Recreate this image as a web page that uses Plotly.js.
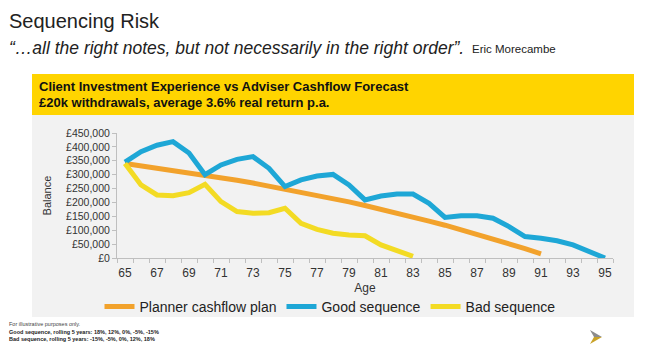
<!DOCTYPE html>
<html>
<head>
<meta charset="utf-8">
<script src="https://cdn.plot.ly/plotly-3.0.1.min.js"></script>
<style>html,body{margin:0;padding:0;background:#fff;}#chart{width:650px;height:351px;}</style>
</head>
<body>
<div id="chart"></div>
<script>
// ---- data ----
const plannerAges = [65,66,67,68,69,70,71,72,73,74,75,76,77,78,79,80,81,82,83,84,85,86,87,88,89,90,91];
const plannerValues = [340000,332000,324000,316000,307000,298000,289000,280000,270000,259000,249000,238000,226000,214000,202000,189000,176000,162000,148000,133000,118000,102000,86000,69000,52000,34000,15000];
const goodAges = [65,66,67,68,69,70,71,72,73,74,75,76,77,78,79,80,81,82,83,84,85,86,87,88,89,90,91,92,93,94,95];
const goodValues = [345000,383000,406000,419000,378000,300000,335000,355000,365000,323000,257000,281000,295000,301000,263000,209000,223000,230000,230000,197000,146000,152000,152000,143000,113000,77000,71000,62000,47000,23000,0];
const badAges = [65,66,67,68,69,70,71,72,73,74,75,76,77,78,79,80,81,82,83];
const badValues = [340000,263000,227000,224000,235000,265000,203000,167000,161000,163000,179000,125000,103000,89000,83000,80000,47000,25000,6000];
const xTickVals = [65,67,69,71,73,75,77,79,81,83,85,87,89,91,93,95];
const xTickText = ["65","67","69","71","73","75","77","79","81","83","85","87","89","91","93","95"];

// ---- layout helpers (pixel -> paper) ----
const L = 117, R = 613, T = 133, B = 258;
const px = x => (x - L) / (R - L);
const py = y => (B - y) / (B - T);
const FONT = "Arial, 'Liberation Sans', sans-serif";

const traces = [
  {x: plannerAges, y: plannerValues, name: "Planner cashflow plan", type: "scatter", mode: "lines",
   line: {color: "#F2A22C", width: 5}},
  {x: goodAges, y: goodValues, name: "Good sequence", type: "scatter", mode: "lines",
   line: {color: "#1EA7D6", width: 5}},
  {x: badAges, y: badValues, name: "Bad sequence", type: "scatter", mode: "lines",
   line: {color: "#F3DB24", width: 5}}
];

const layout = {
  width: 650, height: 351,
  margin: {l: L, r: 650 - R, t: T, b: 351 - B, pad: 0},
  paper_bgcolor: "#ffffff",
  plot_bgcolor: "rgba(0,0,0,0)",
  font: {family: FONT, color: "#333333"},
  showlegend: true,
  legend: {orientation: "h", x: px(330), xanchor: "center", y: py(307), yanchor: "middle",
           font: {size: 14, color: "#222222"}, bgcolor: "rgba(0,0,0,0)", traceorder: "normal",
           itemwidth: 30, tracegroupgap: 0},
  xaxis: {
    range: [64.5, 95.5], tickvals: xTickVals, ticktext: xTickText,
    ticks: "outside", ticklen: 4, tickcolor: "rgba(0,0,0,0)",
    minor: {ticks: "outside", tick0: 64.5, dtick: 1, ticklen: 4, tickcolor: "#bfbfbf", showgrid: false},
    showline: true, linecolor: "#bfbfbf", linewidth: 1, showgrid: false, zeroline: false,
    tickfont: {size: 12, color: "#333333"},
    title: {text: "Age", font: {size: 12, color: "#333333"}, standoff: 4}
  },
  yaxis: {
    range: [0, 450000], dtick: 50000, tickprefix: "£", tickformat: ",d",
    ticks: "outside", ticklen: 4, tickcolor: "#bfbfbf",
    showline: true, linecolor: "#bfbfbf", linewidth: 1, showgrid: false, zeroline: false,
    tickfont: {size: 10.5, color: "#333333"},
    title: {text: "Balance", font: {size: 11, color: "#333333"}, standoff: 12}
  },
  shapes: [
    {type: "rect", xref: "paper", yref: "paper", x0: px(32), x1: px(634), y0: py(317), y1: py(115),
     fillcolor: "#f2f2f2", line: {width: 0}, layer: "below"},
    {type: "rect", xref: "paper", yref: "paper", x0: px(32), x1: px(634), y0: py(115), y1: py(74),
     fillcolor: "#FFD400", line: {width: 0}, layer: "below"},
    {type: "path", xref: "paper", yref: "paper",
     path: `M ${px(590)} ${py(330)} L ${px(602)} ${py(337)} L ${px(594)} ${py(337)} Z`,
     fillcolor: "#8c8c8c", line: {width: 0}},
    {type: "path", xref: "paper", yref: "paper",
     path: `M ${px(594)} ${py(337)} L ${px(602)} ${py(337)} L ${px(590)} ${py(344)} Z`,
     fillcolor: "#C9A227", line: {width: 0}}
  ],
  annotations: [
    {text: "Sequencing Risk", xref: "paper", yref: "paper", x: px(7), y: py(21), xanchor: "left", yanchor: "middle",
     showarrow: false, font: {size: 20, color: "#222222"}},
    {text: "<i>“…all the right notes, but not necessarily in the right order”.</i>", xref: "paper", yref: "paper",
     x: px(7), y: py(48), xanchor: "left", yanchor: "middle", showarrow: false, font: {size: 17.5, color: "#222222"}},
    {text: "Eric Morecambe", xref: "paper", yref: "paper", x: px(470), y: py(49), xanchor: "left", yanchor: "middle",
     showarrow: false, font: {size: 11.5, color: "#222222"}},
    {text: "<b>Client Investment Experience vs Adviser Cashflow Forecast</b>", xref: "paper", yref: "paper",
     x: px(37), y: py(87), xanchor: "left", yanchor: "middle", showarrow: false, font: {size: 13, color: "#111111"}},
    {text: "<b>£20k withdrawals, average 3.6% real return p.a.</b>", xref: "paper", yref: "paper",
     x: px(37), y: py(102), xanchor: "left", yanchor: "middle", showarrow: false, font: {size: 13, color: "#111111"}},
    {text: "For illustrative purposes only.", xref: "paper", yref: "paper", x: px(7), y: py(324),
     xanchor: "left", yanchor: "middle", showarrow: false, font: {size: 5.5, color: "#444444"}},
    {text: "<b>Good sequence, rolling 5 years: 18%, 12%, 0%, -5%, -15%</b>", xref: "paper", yref: "paper", x: px(7), y: py(332),
     xanchor: "left", yanchor: "middle", showarrow: false, font: {size: 5.5, color: "#222222"}},
    {text: "<b>Bad sequence, rolling 5 years: -15%, -5%, 0%, 12%, 18%</b>", xref: "paper", yref: "paper", x: px(7), y: py(339),
     xanchor: "left", yanchor: "middle", showarrow: false, font: {size: 5.5, color: "#222222"}}
  ]
};

Plotly.newPlot("chart", traces, layout, {displayModeBar: false, staticPlot: true});
</script>
</body>
</html>
